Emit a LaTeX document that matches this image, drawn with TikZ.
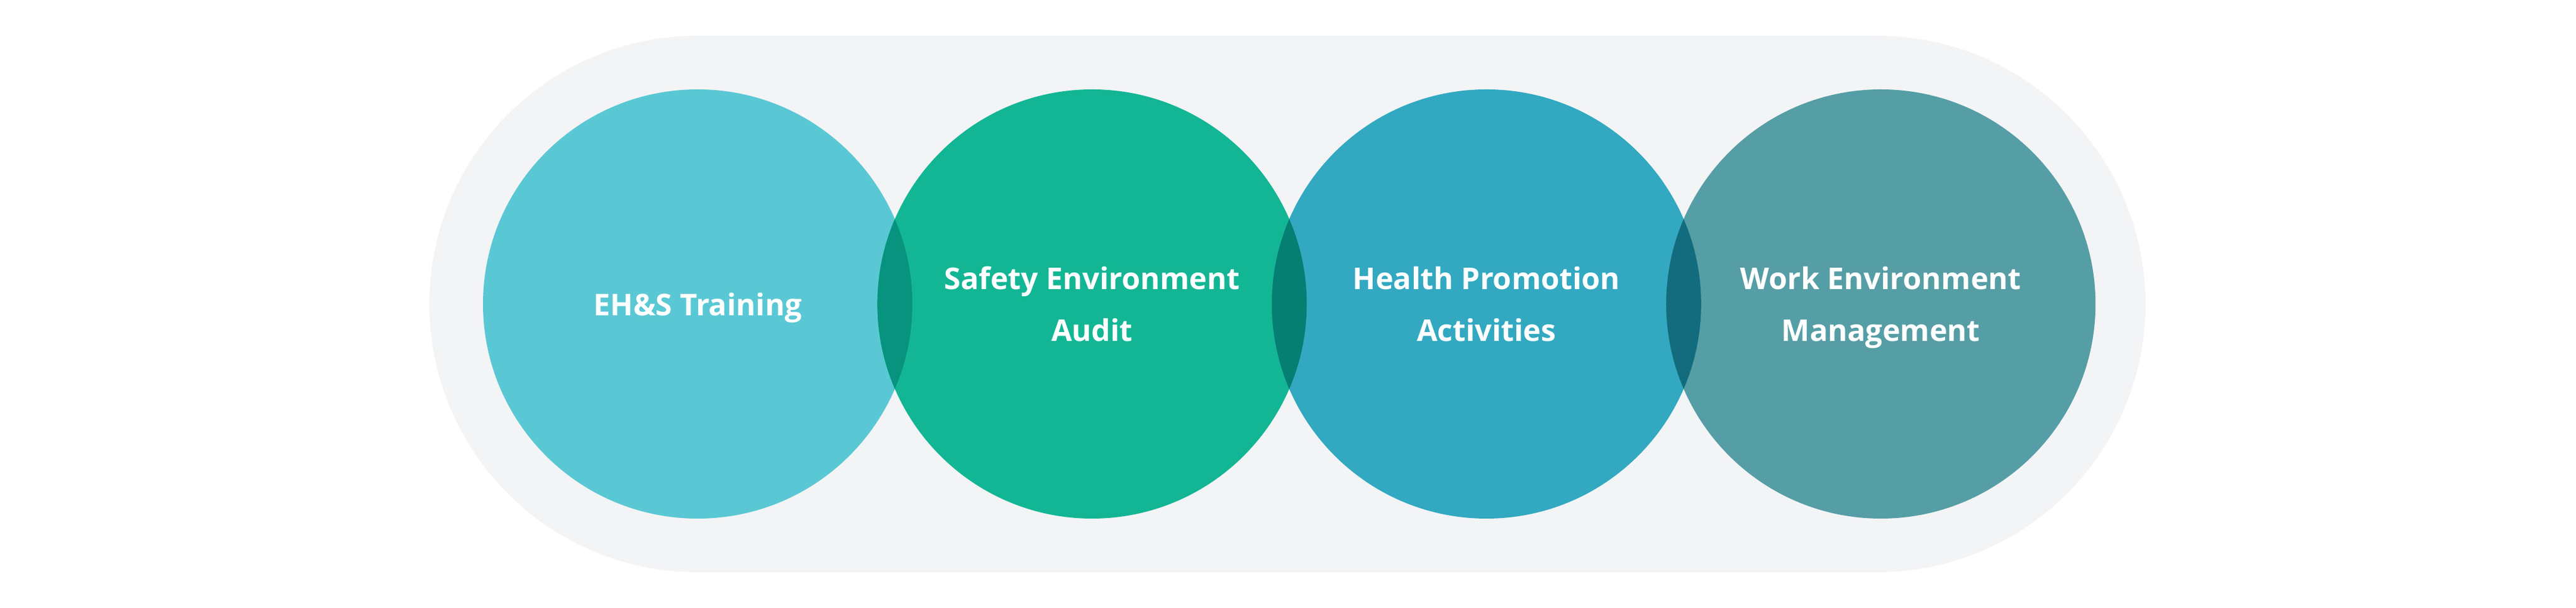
\documentclass[tikz,border=0pt]{standalone}
\usepackage{fontspec}
\setsansfont{Open Sans}
\usepackage{xcolor}
\usepackage{tikz}
\usetikzlibrary{shapes,positioning,backgrounds}
\definecolor{pillgray}{RGB}{243,244,246}
\definecolor{trainblue}{RGB}{90,200,212}
\definecolor{auditgreen}{RGB}{19,182,148}
\definecolor{healthblue}{RGB}{50,169,193}
\definecolor{workteal}{RGB}{86,158,165}
\definecolor{lensa}{RGB}{7,147,126}
\definecolor{lensb}{RGB}{5,127,114}
\definecolor{lensc}{RGB}{18,108,125}

\begin{document}
\begin{tikzpicture}[
    node distance=-0.6cm,
    ring/.style={circle, minimum size=7.2cm, inner sep=0pt},
    label/.style={text=white, align=center, text depth=0pt, font=\sffamily\bfseries\fontsize{14.3}{24.75}\selectfont}
]
    \useasboundingbox (0,0) rectangle (43.2,10.2);
    \fill[pillgray, rounded corners=4.5cm] (7.2,0.6) rectangle (35.98,9.6);

    % Circles
    \node[ring, fill=trainblue] (training) at (11.7,5.1) {};
    \node[ring, fill=auditgreen, right=of training] (audit) {};
    \node[ring, fill=healthblue, right=of audit] (health) {};
    \node[ring, fill=workteal, right=of health] (work) {};

    % Overlaps
    \begin{scope}
        \clip (training.center) circle (3.6);
        \fill[lensa] (audit.center) circle (3.6);
    \end{scope}
    \begin{scope}
        \clip (audit.center) circle (3.6);
        \fill[lensb] (health.center) circle (3.6);
    \end{scope}
    \begin{scope}
        \clip (health.center) circle (3.6);
        \fill[lensc] (work.center) circle (3.6);
    \end{scope}

    % Labels
    \node[label] (trainingtext) at (training.center) {EH\&S Training};
    \node[label] (audittext) at (audit.center) {Safety Environment\\Audit};
    \node[label] (healthtext) at (health.center) {Health Promotion\\Activities};
    \node[label] (worktext) at (work.center) {Work Environment\\Management};

\end{tikzpicture}
\end{document}
